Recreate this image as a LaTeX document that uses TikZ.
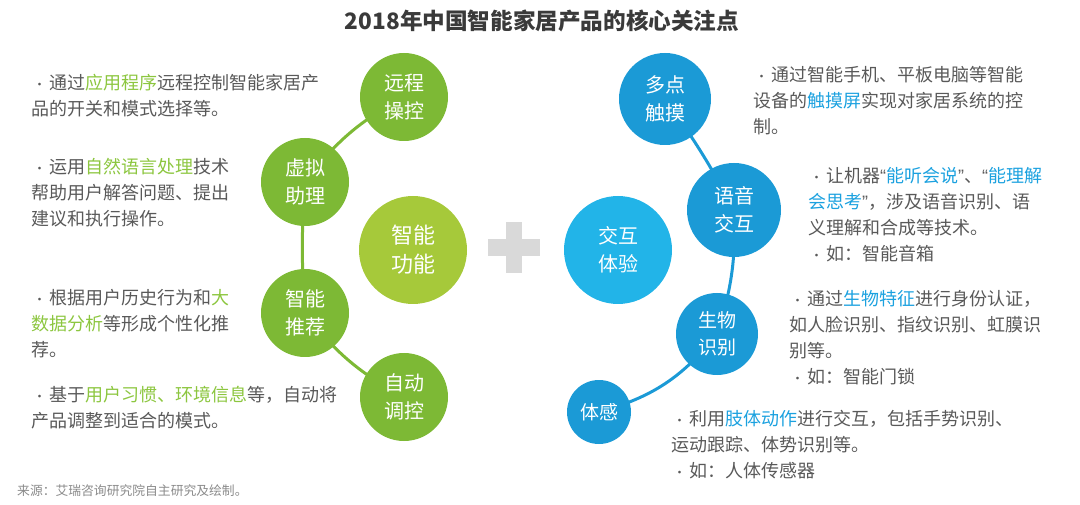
\documentclass[tikz,border=0pt]{standalone}
\usepackage{fontspec}
\setmainfont{Noto Sans CJK SC}
\newfontfamily\latinq{Liberation Sans}
\usetikzlibrary{backgrounds}
\definecolor{txt}{HTML}{595959}
\definecolor{ttl}{HTML}{3A3A3A}
\definecolor{src}{HTML}{8A8A8A}
\definecolor{gdark}{HTML}{7DB935}
\definecolor{glight}{HTML}{A6C93A}
\definecolor{ghl}{HTML}{8CC63F}
\definecolor{bdark}{HTML}{1B9AD6}
\definecolor{blight}{HTML}{22B4E8}
\definecolor{bhl}{HTML}{1BA1DF}
\definecolor{plusc}{HTML}{D9D9D9}
\newcommand{\gh}[1]{\textcolor{ghl}{#1}}
\newcommand{\bh}[1]{\textcolor{bhl}{#1}}
\newcommand{\bul}{\makebox[18pt][l]{\hspace{2pt}{\fontsize{13}{13}\selectfont •}}}
\newcommand{\myoq}{{\latinq “}}
\newcommand{\mycq}{{\latinq ”}}
\tikzset{
  desc/.style={anchor=base west, inner sep=0pt, align=left, text=txt,
    font=\fontsize{18}{26}\selectfont},
  gcirc/.style={circle, fill=gdark, text=white, inner sep=0pt, align=center,
    minimum size=88pt, font=\fontsize{20}{28}\selectfont},
  bcirc/.style={circle, fill=bdark, text=white, inner sep=0pt, align=center,
    minimum size=92pt, font=\fontsize{20}{28}\selectfont},
  gline/.style={draw=gdark, line width=3pt},
  bline/.style={draw=bdark, line width=3pt}
}
\begin{document}
\begin{tikzpicture}[x=1pt, y=-1pt]
\useasboundingbox (0,0) rectangle (1080,505);
% title
\node[font=\bfseries\fontsize{22.6}{26}\selectfont, text=ttl] (title) at (542,21) {2018年中国智能家居产品的核心关注点};
% green circles
\node[gcirc] (yc) at (404,97) {远程\\操控};
\node[gcirc] (xn) at (305,182) {虚拟\\助理};
\node[gcirc, fill=glight, minimum size=108pt, font=\fontsize{22}{29}\selectfont] (zg) at (413,250) {智能\\功能};
\node[gcirc] (zt) at (305,313) {智能\\推荐};
\node[gcirc] (zd) at (404,397) {自动\\调控};
% plus
\fill[plusc] (488,239) rectangle (540,256);
\fill[plusc] (506,222) rectangle (522,273);
% blue circles
\node[bcirc, fill=blight, minimum size=108pt] (jh) at (618,250) {交互\\体验};
\node[bcirc] (dd) at (665,99) {多点\\触摸};
\node[bcirc, minimum size=94pt] (yy) at (734,210) {语音\\交互};
\node[bcirc, minimum size=82pt, font=\fontsize{19}{27}\selectfont] (sw) at (717,334) {生物\\识别};
\node[bcirc, minimum size=64pt, font=\fontsize{19}{27}\selectfont] (tg) at (599,412) {体感};
% connectors
\begin{scope}[on background layer]
\draw[gline] (yc.center) to[bend right=12] (xn.center);
\draw[gline] (xn.center) to[bend right=4] (zt.center);
\draw[gline] (zt.center) to[bend right=12] (zd.center);
\draw[bline] (dd.center) to[bend left=4] (yy.center);
\draw[bline] (yy.center) to[bend left=10] (sw.center);
\draw[bline] (sw.center) to[bend left=18] (tg.center);
\end{scope}
% left texts (anchor = baseline of last line)
\node[desc] (l1) at (31,116) {\bul 通过\gh{应用程序}远程控制智能家居产\\品的开关和模式选择等。};
\node[desc] (l2) at (31,226) {\bul 运用\gh{自然语言处理}技术\\帮助用户解答问题、提出\\建议和执行操作。};
\node[desc] (l3) at (31,356) {\bul 根据用户历史行为和\gh{大}\\\gh{数据分析}等形成个性化推\\荐。};
\node[desc] (l4) at (31,427) {\bul 基于\gh{用户习惯、环境信息}等，自动将\\产品调整到适合的模式。};
% right texts
\node[desc] (r1) at (753,134) {\bul 通过智能手机、平板电脑等智能\\设备的\bh{触摸屏}实现对家居系统的控\\制。};
\node[desc] (r2) at (808,261) {\bul 让机器\myoq\bh{能听会说}\mycq、\myoq\bh{能理解}\\\bh{会思考}\mycq，涉及语音识别、语\\义理解和合成等技术。\\\bul 如：智能音箱};
\node[desc] (r3) at (789,383) {\bul 通过\bh{生物特征}进行身份认证，\\如人脸识别、指纹识别、虹膜识\\别等。\\\bul 如：智能门锁};
\node[desc] (r4) at (671,477) {\bul 利用\bh{肢体动作}进行交互，包括手势识别、\\运动跟踪、体势识别等。\\\bul 如：人体传感器};
% source
\node[anchor=base west, inner sep=0pt, text=src, font=\fontsize{12.8}{15}\selectfont] (source) at (17,495) {来源：艾瑞咨询研究院自主研究及绘制。};
\end{tikzpicture}
\end{document}
